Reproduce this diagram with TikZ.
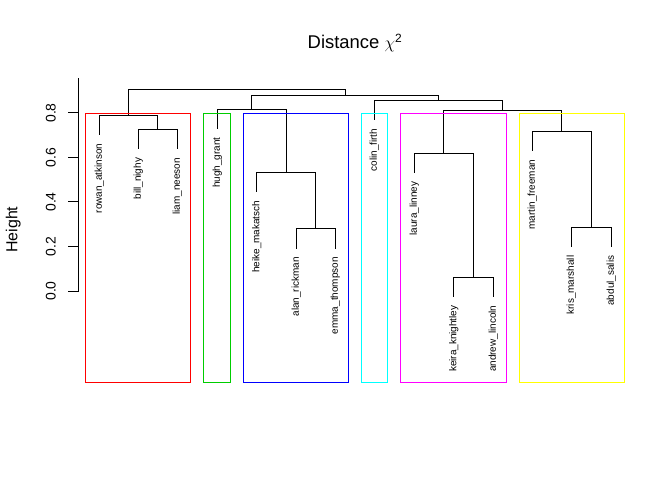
\documentclass[tikz,border=0pt]{standalone}
\usepackage{fontspec}
\setmainfont{Liberation Sans}
\usetikzlibrary{positioning}
\definecolor{rred}{RGB}{255,0,0}
\definecolor{rgreen}{RGB}{0,205,0}
\definecolor{rblue}{RGB}{0,0,255}
\definecolor{rcyan}{RGB}{0,255,255}
\definecolor{rmagenta}{RGB}{255,0,255}
\definecolor{ryellow}{RGB}{255,255,0}

\begin{document}
\begin{tikzpicture}[x=1bp, y=-1bp,
    branch/.style={line width=1bp, line cap=rect},
    leaf/.style={rotate=90, anchor=mid east, inner sep=0pt, outer xsep=9bp, outer ysep=0pt,
                 font=\fontsize{10}{12}\selectfont},
    ticklabel/.style={rotate=90, anchor=base, inner sep=0pt, font=\fontsize{14}{16}\selectfont},
    clusterbox/.style={line width=1bp}]
    \useasboundingbox[fill=white] (0,0) rectangle (672,480);
    % title and axis %
    \node[anchor=base, font=\fontsize{18.5}{22}\selectfont] (title) at (355,48.3)
        {Distance $\chi^{\mbox{\fontsize{12}{14}\selectfont 2}}$};
    \node[rotate=90, anchor=base, inner sep=0pt, font=\fontsize{16}{18}\selectfont] (ylab) at (17.3,229.7) {Height};
    \coordinate (axbot) at (78,291);
    \coordinate (axtop) at (78,78.3);
    \draw[branch] (axbot) -- (axtop);
    \draw[branch] (axbot) -- ++(-9.7,0);
    \draw[branch] (78,246.5) -- ++(-9.7,0);
    \draw[branch] (78,202) -- ++(-9.7,0);
    \draw[branch] (78,157.5) -- ++(-9.7,0);
    \draw[branch] (78,113) -- ++(-9.7,0);
    \node[ticklabel] (t0) at (55.5,291) {0.0};
    \node[ticklabel] (t2) at (55.5,246.5) {0.2};
    \node[ticklabel] (t4) at (55.5,202) {0.4};
    \node[ticklabel] (t6) at (55.5,157.5) {0.6};
    \node[ticklabel] (t8) at (55.5,113) {0.8};
    % leaves %
    \node[leaf] (rowan) at (99.3,134.5) {rowan\_atkinson};
    \node[leaf] (bill) at (138.3,149) {bill\_nighy};
    \node[leaf] (liam) at (177.3,149) {liam\_neeson};
    \node[leaf] (hugh) at (217.3,128.5) {hugh\_grant};
    \node[leaf] (heike) at (256.7,191.8) {heike\_makatsch};
    \node[leaf] (alan) at (296.3,248.2) {alan\_rickman};
    \node[leaf] (emma) at (335.3,248.2) {emma\_thompson};
    \node[leaf] (colin) at (374.3,119.8) {colin\_firth};
    \node[leaf] (laura) at (414.3,172.7) {laura\_linney};
    \node[leaf] (keira) at (453.7,296.5) {keira\_knightley};
    \node[leaf] (andrew) at (493.3,296.5) {andrew\_lincoln};
    \node[leaf] (martin) at (532.3,150.7) {martin\_freeman};
    \node[leaf] (kris) at (571.3,246.7) {kris\_marshall};
    \node[leaf] (abdul) at (611.3,246.7) {abdul\_salis};
    % merges %
    \coordinate (bl) at (157.8,129.3);
    \coordinate (red) at (128.55,115.7);
    \coordinate (ae) at (315.8,228.7);
    \coordinate (hae) at (286,172.3);
    \coordinate (hb) at (251.65,109.3);
    \coordinate (ka) at (473.5,277.3);
    \coordinate (lka) at (443.9,153.3);
    \coordinate (kab) at (591.3,227.3);
    \coordinate (mkab) at (561.8,131.3);
    \coordinate (lm) at (502.85,110.3);
    \coordinate (cr) at (438.6,100.3);
    \coordinate (hc) at (345.1,95.3);
    \coordinate (root) at (236.8,89.3);
    % edges %
    \draw[branch] (bill.mid east) |- (bl) -| (liam.mid east);
    \draw[branch] (rowan.mid east) |- (red) -| (bl);
    \draw[branch] (alan.mid east) |- (ae) -| (emma.mid east);
    \draw[branch] (heike.mid east) |- (hae) -| (ae);
    \draw[branch] (hugh.mid east) |- (hb) -| (hae);
    \draw[branch] (keira.mid east) |- (ka) -| (andrew.mid east);
    \draw[branch] (laura.mid east) |- (lka) -| (ka);
    \draw[branch] (kris.mid east) |- (kab) -| (abdul.mid east);
    \draw[branch] (martin.mid east) |- (mkab) -| (kab);
    \draw[branch] (lka) |- (lm) -| (mkab);
    \draw[branch] (colin.mid east) |- (cr) -| (lm);
    \draw[branch] (hb) |- (hc) -| (cr);
    \draw[branch] (red) |- (root) -| (hc);
    % clusters %
    \draw[clusterbox, rred] (85.3,113.3) rectangle (190.7,382.3);
    \draw[clusterbox, rgreen] (203.3,113.3) rectangle (230.3,382.3);
    \draw[clusterbox, rblue] (243.3,113.3) rectangle (348.3,382.3);
    \draw[clusterbox, rcyan] (361.3,113.3) rectangle (387.7,382.3);
    \draw[clusterbox, rmagenta] (400.3,113.3) rectangle (506.3,382.3);
    \draw[clusterbox, ryellow] (519.3,113.3) rectangle (624.7,382.3);
\end{tikzpicture}
\end{document}
